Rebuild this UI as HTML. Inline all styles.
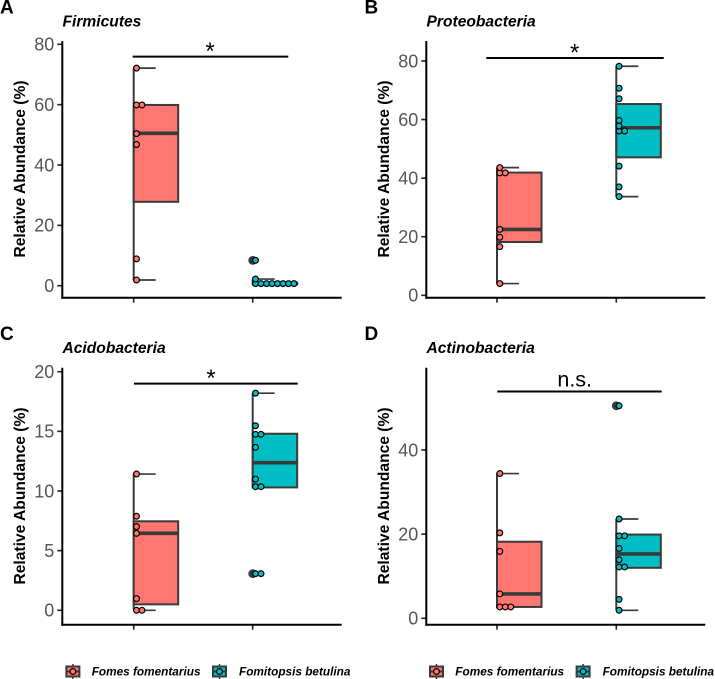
<!DOCTYPE html>
<html>
<head>
<meta charset="utf-8">
<title>Relative abundance by phylum</title>
<style>
html,body{margin:0;padding:0;background:#fff;}
svg{display:block;font-family:"Liberation Sans",sans-serif;}
</style>
</head>
<body>
<svg id="figure" width="715" height="679" viewBox="0 0 715 679" xmlns="http://www.w3.org/2000/svg"></svg>
<script>
// Category and legend labels
const speciesLabels = ['Fomes fomentarius', 'Fomitopsis betulina'];

// Tick labels per panel
const firmicutesTicks = [0, 20, 40, 60, 80];
const proteobacteriaTicks = [0, 20, 40, 60, 80];
const acidobacteriaTicks = [0, 5, 10, 15, 20];
const actinobacteriaTicks = [0, 20, 40];

// Sample values per species
const firmicutesFomes = [72.1, 59.9, 59.9, 50.4, 46.8, 8.9, 1.9];
const firmicutesFomitopsis = [8.4, 2.2, 0.7, 0.7, 0.7, 0.7, 0.7, 0.7, 0.7, 0.7];
const proteobacteriaFomes = [43.6, 41.8, 41.8, 22.5, 19.8, 16.6, 4];
const proteobacteriaFomitopsis = [78.2, 70.7, 67.1, 59.7, 57.8, 56.1, 56.1, 44.1, 37, 33.7];
const acidobacteriaFomes = [11.42, 7.88, 7.01, 6.45, 0.98, 0, 0];
const acidobacteriaFomitopsis = [18.2, 15.47, 14.75, 14.75, 13.66, 11, 10.36, 10.36, 3.07, 3.07];
const actinobacteriaFomes = [34.4, 20.3, 15.9, 5.8, 2.7, 2.7, 2.7];
const actinobacteriaFomitopsis = [50.5, 23.6, 19.6, 19.6, 16.6, 13.9, 12.2, 12.2, 4.5, 1.9];

// Box statistics: lower whisker, q1, median, q3, upper whisker
const firmicutesFomesBox = [1.9, 27.8, 50.5, 59.9, 72.1];
const firmicutesFomitopsisBox = [0.5, 0.5, 0.7, 1, 2.2];
const proteobacteriaFomesBox = [4, 18.2, 22.5, 41.9, 43.6];
const proteobacteriaFomitopsisBox = [33.7, 47.1, 57.2, 65.3, 78.2];
const acidobacteriaFomesBox = [0, 0.5, 6.45, 7.46, 11.42];
const acidobacteriaFomitopsisBox = [10.3, 10.3, 12.37, 14.8, 18.2];
const actinobacteriaFomesBox = [2.7, 2.7, 5.8, 18.2, 34.4];
const actinobacteriaFomitopsisBox = [1.9, 12, 15.3, 19.9, 23.6];

// Outliers per species
const firmicutesOutliers = [[], [8.4]];
const proteobacteriaOutliers = [[], []];
const acidobacteriaOutliers = [[], [3.07]];
const actinobacteriaOutliers = [[], [50.5]];

// Significance bracket levels
const firmicutesBracket = 75.9;
const proteobacteriaBracket = 81;
const acidobacteriaBracket = 19;
const actinobacteriaBracket = 53.9;

const panels = [
  {key:'firmicutes', letter:'A', title:'Firmicutes', ticks:firmicutesTicks,
   dots:[firmicutesFomes, firmicutesFomitopsis], boxes:[firmicutesFomesBox, firmicutesFomitopsisBox],
   outliers:firmicutesOutliers, bracket:firmicutesBracket, sig:'*',
   axisX:62.3, right:341.7, top:41, bottom:297.7, y0:285.7, k:3.0175,
   cat:[133.7, 252.7], brX:[132.7, 288.3], sigX:210, letterX:0, letterY:13.5, titleY:26.5, midY:169, titleX:62.5},
  {key:'proteobacteria', letter:'B', title:'Proteobacteria', ticks:proteobacteriaTicks,
   dots:[proteobacteriaFomes, proteobacteriaFomitopsis], boxes:[proteobacteriaFomesBox, proteobacteriaFomitopsisBox],
   outliers:proteobacteriaOutliers, bracket:proteobacteriaBracket, sig:'*',
   axisX:426.3, right:705.3, top:41, bottom:297.7, y0:295.3, k:2.929,
   cat:[497, 616.3], brX:[486.3, 663.7], sigX:574.7, letterX:364.5, letterY:13.5, titleY:26.5, midY:169, titleX:426.5},
  {key:'acidobacteria', letter:'C', title:'Acidobacteria', ticks:acidobacteriaTicks,
   dots:[acidobacteriaFomes, acidobacteriaFomitopsis], boxes:[acidobacteriaFomesBox, acidobacteriaFomitopsisBox],
   outliers:acidobacteriaOutliers, bracket:acidobacteriaBracket, sig:'*',
   axisX:62.3, right:341.7, top:367.7, bottom:624.7, y0:610.3, k:11.93,
   cat:[133.7, 252.7], brX:[134, 297.7], sigX:211, letterX:0, letterY:340, titleY:353, midY:496, titleX:62.5},
  {key:'actinobacteria', letter:'D', title:'Actinobacteria', ticks:actinobacteriaTicks,
   dots:[actinobacteriaFomes, actinobacteriaFomitopsis], boxes:[actinobacteriaFomesBox, actinobacteriaFomitopsisBox],
   outliers:actinobacteriaOutliers, bracket:actinobacteriaBracket, sig:'n.s.',
   axisX:426.3, right:705.3, top:367.7, bottom:624.7, y0:618.3, k:4.208,
   cat:[497, 616.3], brX:[497.3, 661.7], sigX:574.7, letterX:364.5, letterY:340, titleY:353, midY:496, titleX:426.5}
];

const fills = ['#FF7770', '#00BFC4'];
const dark = '#3a3a3a';
const svg = document.getElementById('figure');
const NS = 'http://www.w3.org/2000/svg';

function add(parent, tag, attrs, name, text) {
  const el = document.createElementNS(NS, tag);
  for (const a in attrs) el.setAttribute(a, attrs[a]);
  
  
  if (text !== undefined) el.textContent = text;
  parent.appendChild(el);
  return el;
}

function line(parent, x1, y1, x2, y2, stroke, w, name) {
  return add(parent, 'line', {x1:x1, y1:y1, x2:x2, y2:y2, stroke:stroke, 'stroke-width':w}, name);
}

// Group values into stacks no taller than a dot bin, as a dot plot does
function stackDots(values, k) {
  const sorted = values.slice().sort((a, b) => a - b);
  const bins = [];
  sorted.forEach(v => {
    const last = bins[bins.length - 1];
    if (last && (v - last[0]) * k < 3) last.push(v);
    else bins.push([v]);
  });
  return bins;
}

panels.forEach(p => {
  const y = v => p.y0 - v * p.k;
  const g = add(svg, 'g', {}, p.key + '-panel');

  add(g, 'text', {x:p.letterX, y:p.letterY, 'font-size':19, 'font-weight':'bold', fill:'#000'}, p.key + '-panel-letter', p.letter);
  add(g, 'text', {x:p.titleX, y:p.titleY, 'font-size':15.6, 'font-weight':'bold', 'font-style':'italic', fill:'#000'}, p.key + '-title', p.title);

  add(g, 'text', {x:0, y:0, transform:'translate(' + (p.axisX - 37.3) + ' ' + p.midY + ') rotate(-90)', 'text-anchor':'middle', 'font-size':15.6, 'font-weight':'bold', fill:'#000'}, p.key + '-y-axis-title', 'Relative Abundance (%)');

  p.ticks.forEach(t => {
    line(g, p.axisX - 5, y(t), p.axisX, y(t), '#222', 1.6, p.key + '-y-tick-' + t);
    add(g, 'text', {x:p.axisX - 8, y:y(t) + 6.3, 'text-anchor':'end', 'font-size':18, fill:'#555'}, p.key + '-y-tick-label-' + t, String(t));
  });

  p.cat.forEach((cx, i) => {
    line(g, cx, p.bottom, cx, p.bottom + 5, '#222', 1.6, p.key + '-x-tick-' + (i + 1));

    const [lo, q1, med, q3, hi] = p.boxes[i];
    const boxW = 44.5, capW = 22;
    line(g, cx, y(hi), cx, y(lo), dark, 2, p.key + '-whisker-' + (i + 1));
    line(g, cx, y(hi), cx + capW, y(hi), dark, 1.7, p.key + '-upper-cap-' + (i + 1));
    line(g, cx, y(lo), cx + capW, y(lo), dark, 1.7, p.key + '-lower-cap-' + (i + 1));
    add(g, 'rect', {x:cx, y:y(q3), width:boxW, height:Math.max(y(q1) - y(q3), 0.5), fill:fills[i], stroke:dark, 'stroke-width':2}, p.key + '-box-' + (i + 1));
    line(g, cx, y(med), cx + boxW, y(med), dark, 3.6, p.key + '-median-' + (i + 1));

    p.outliers[i].forEach((v, j) => {
      add(g, 'circle', {cx:cx, cy:y(v), r:4.4, fill:dark}, p.key + '-outlier-' + (i + 1) + '-' + j);
    });

    stackDots(p.dots[i], p.k).forEach((bin, b) => {
      bin.forEach((v, j) => {
        const mid = (bin[0] + bin[bin.length - 1]) / 2;
        add(g, 'circle', {cx:cx + 2.8 + j * 5.5, cy:y(mid), r:2.9, fill:fills[i], stroke:'#000', 'stroke-width':1.2}, p.key + '-dot-' + (i + 1) + '-' + b + '-' + j);
      });
    });
  });

  line(g, p.axisX, p.top, p.axisX, p.bottom + 1, '#000', 2, p.key + '-y-axis-line');
  line(g, p.axisX - 1, p.bottom, p.right, p.bottom, '#000', 2, p.key + '-x-axis-line');

  const by = y(p.bracket);
  line(g, p.brX[0], by, p.brX[1], by, '#000', 2, p.key + '-significance-bracket');
  const isStar = p.sig === '*';
  add(g, 'text', {x:p.sigX, y:isStar ? by + 2.5 : by - 5, 'text-anchor':'middle', 'font-size':isStar ? 24 : 21.5, fill:'#000'}, p.key + '-significance-label', p.sig);
});

const legendOffsets = [0, 363.6];
legendOffsets.forEach((dx, n) => {
  const lg = add(svg, 'g', {}, 'legend-' + (n + 1));
  [65.7, 212.3].forEach((kx, i) => {
    const entry = add(lg, 'g', {}, 'legend-entry-' + (i + 1));
    const cx = kx + dx + 7.2;
    line(entry, cx, 664, cx, 679, dark, 1.5, 'legend-key-whisker');
    add(entry, 'rect', {x:kx + dx + 0.7, y:666.5, width:13, height:10, fill:fills[i], stroke:dark, 'stroke-width':2}, 'legend-key-box');
    line(entry, kx + dx + 0.7, 671.5, kx + dx + 13.7, 671.5, dark, 2, 'legend-key-median');
    add(entry, 'circle', {cx:cx, cy:671.5, r:2.9, fill:fills[i], stroke:'#000', 'stroke-width':1.2}, 'legend-key-dot');
    add(entry, 'text', {x:(i === 0 ? 91.7 : 239) + dx, y:675.5, 'font-size':11.8, 'font-weight':'bold', 'font-style':'italic', fill:'#000'}, 'legend-label', speciesLabels[i]);
  });
});
</script>
</body>
</html>
